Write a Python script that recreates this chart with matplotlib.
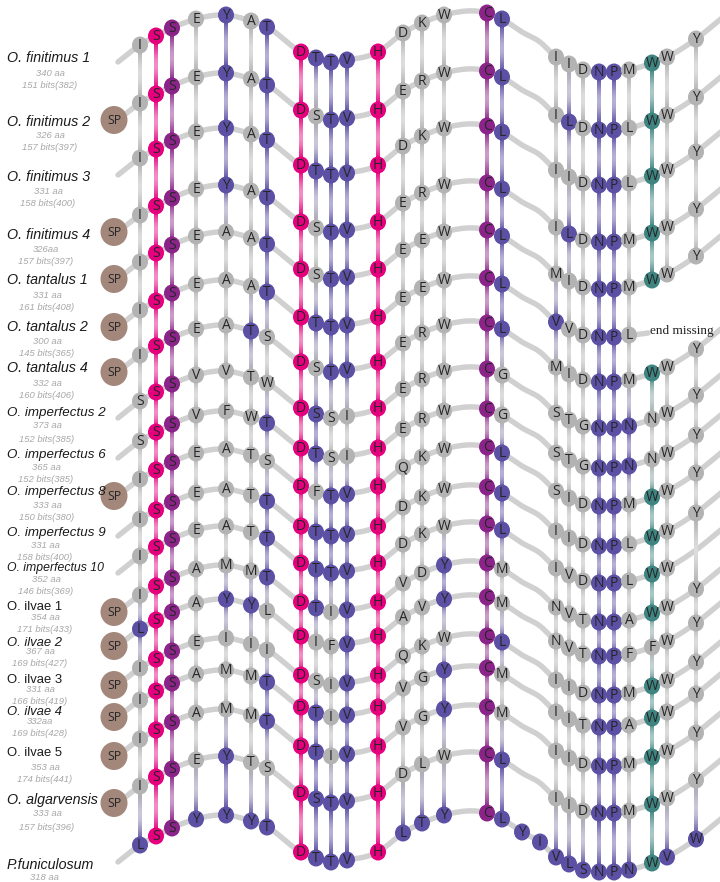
import numpy as np
import matplotlib
matplotlib.use('Agg')
import matplotlib.pyplot as plt
from matplotlib.patches import Ellipse
from matplotlib.colors import to_rgb

# ---- data ----
species = ['O. finitimus 1', 'O. finitimus 2', 'O. finitimus 3', 'O. finitimus 4',
           'O. tantalus 1', 'O. tantalus 2', 'O. tantalus 4',
           'O. imperfectus 2', 'O. imperfectus 6', 'O. imperfectus 8',
           'O. imperfectus 9', 'O. imperfectus 10',
           'O. ilvae 1', 'O. ilvae 2', 'O. ilvae 3', 'O. ilvae 4', 'O. ilvae 5',
           'O. algarvensis', 'P.funiculosum']
aa_text = ['340 aa', '326 aa', '331 aa', '326aa', '331 aa', '300 aa', '332 aa',
           '373 aa', '365 aa', '333 aa', '331 aa', '352 aa',
           '354 aa', '367 aa', '331 aa', '332aa', '353 aa', '333 aa', '318 aa']
bits_text = ['151 bits(382)', '157 bits(397)', '158 bits(400)', '157 bits(397)',
             '161 bits(408)', '145 bits(365)', '160 bits(406)',
             '152 bits(385)', '152 bits(385)', '150 bits(380)', '158 bits(400)',
             '146 bits(369)', '171 bits(433)', '169 bits(427)', '166 bits(419)',
             '169 bits(428)', '174 bits(441)', '157 bits(396)', '']
has_sp = [0, 1, 0, 1, 1, 1, 1, 0, 0, 1, 0, 0, 1, 1, 1, 1, 1, 1, 0]

# 17 aligned positions + 2 insertion slots + 9 aligned positions ('-' = none)
residues = [
    'ISSEYATDTTVHDKWCL' '--' 'IIDNPMWWY',
    'ISSEYATDSTVHERWCL' '--' 'ILDNPLWWY',
    'ISSEYATDTTVHDKWCL' '--' 'IIDNPLWWY',
    'ISSEYATDSTVHERWCL' '--' 'ILDNPMWWY',
    'ISSEAATDSTVHEEWCL' '--' 'MIDNPMWWY',
    'ISSEAATDTTVHEEWCL' '--' 'VVDNPL---',
    'ISSEATSDSTVHERWCL' '--' 'MIDNPMWWY',
    'SSSVVTWDSSIHERWCG' '--' 'STGNPNNWY',
    'SSSVFWTDTSIHERWCG' '--' 'STGNPNNWY',
    'ISSEATSDFTVHQKWCL' '--' 'SIDNPMWWY',
    'ISSEATTDTTVHDKWCL' '--' 'IIDNPLWWY',
    'ISSEATTDTTVHDKWCL' '--' 'IVDNPLWW-',
    'ISSAMMTDTIVHVDYCM' '--' 'NVTNPAWWY',
    'LSSAYYLDIFVHAVYCM' '--' 'NVTNPFFWY',
    'ISSEIIIDSIVHQKWCL' '--' 'IIDNPMWWY',
    'ISSAMMTDTIVHVGYCM' '--' 'IITNPAWWY',
    'ISSAMMTDTIVHVGYCM' '--' 'IIDNPMWWY',
    'ISSEYTSDSTVHDLWCL' '--' 'IIDNPMWWY',
    'LSSYYYTDTTVHLTYCL' 'YI' 'VLSNPNWVW',
]
# g grey, p pink, u purple, b blue, t teal
classes = [
    'gpugbgbpbbbpgggub' '--' 'gggbbgtgg',
    'gpugbgbpgbbpgggub' '--' 'gbgbbgtgg',
    'gpugbgbpbbbpgggub' '--' 'gggbbgtgg',
    'gpugbgbpgbbpgggub' '--' 'gbgbbgtgg',
    'gpugggbpgbbpgggub' '--' 'gggbbgtgg',
    'gpugggbpbbbpgggub' '--' 'bggbbg---',
    'gpuggbgpgbbpgggub' '--' 'gggbbgtgg',
    'gpuggggpbggpgggug' '--' 'gggbbbggg',
    'gpugggbpbggpgggug' '--' 'gggbbbggg',
    'gpuggggpgbbpgggub' '--' 'gggbbgtgg',
    'gpugggbpbbbpgggub' '--' 'gggbbgtgg',
    'gpugggbpbbbpgggub' '--' 'gggbbgtg-',
    'gpugggbpbgbpggbug' '--' 'gggbbgtgg',
    'bpugbbgpggbpggbug' '--' 'gggbbgggg',
    'gpuggggpggbpgggub' '--' 'gggbbgtgg',
    'gpugggbpbgbpggbug' '--' 'gggbbgtgg',
    'gpugggbpbgbpggbug' '--' 'gggbbgtgg',
    'gpugbggpbbbpgggub' '--' 'gggbbgtgg',
    'bpubbbbpbbbpbbbub' 'bb' 'bbbbbbtbb',
]

# ---- layout ----
palette = {'g': '#b3b3b3', 'p': '#e5007e', 'u': '#8b2489', 'b': '#5b50a4', 't': '#3e8481'}
col_x = [140, 156, 172, 196, 226, 251, 267, 301, 316, 331, 347, 378, 403, 422, 444,
         487, 502, 522, 540, 556, 569, 583, 599, 614, 629, 652, 667, 696]
col_dy = [45, 36, 28, 19, 15, 21, 27, 52, 58, 62, 60, 52, 33, 23, 15, 13, 19, 32, 42,
          57, 64, 70, 72, 72, 70, 63, 57, 39]
row_off = [0, 58, 113, 170, 217, 265, 310, 356, 396, 434, 474, 511, 550, 584, 623,
           655, 694, 741, 800]
label_y = [58, 122, 177, 235, 280, 327, 368, 413, 455, 492, 533, 568, 607, 643, 680,
           712, 753, 800, 865]
aa_y = [73, 136, 192, 249, 295, 342, 383, 425, 468, 506, 545, 579, 617, 652, 690,
        722, 768, 814, 877]
bits_y = [85, 148, 203, 262, 307, 354, 395, 439, 480, 518, 557, 592, 629, 663, 702,
          734, 780, 827, 0]
sub_x = [50, 50, 48, 46, 47, 47, 47, 47, 46, 47, 45, 46, 45, 40, 40, 40, 45, 47, 44]
label_size = [10.3] * 7 + [9.6] * 4 + [8.8] + [9.4] * 5 + [10.3, 10.3]
label_style = ['italic'] * 12 + ['normal', 'italic', 'normal', 'italic', 'normal'] + ['italic'] * 2
truncated = 5          # O. tantalus 2 ends early
trunc_col = 24
ins_cols = (17, 18)


def smooth(xs, ys, n=14):
    xs = np.asarray(xs, float)
    ys = np.asarray(ys, float)
    h = np.diff(xs)
    d = np.diff(ys) / h
    m = np.empty_like(ys)
    m[0], m[-1] = d[0], d[-1]
    m[1:-1] = (d[:-1] * h[1:] + d[1:] * h[:-1]) / (h[:-1] + h[1:])
    px, py = [], []
    t = np.linspace(0, 1, n, endpoint=False)
    for i in range(len(xs) - 1):
        h00 = 2 * t**3 - 3 * t**2 + 1
        h10 = t**3 - 2 * t**2 + t
        h01 = -2 * t**3 + 3 * t**2
        h11 = t**3 - t**2
        px.append(xs[i] + t * h[i])
        py.append(h00 * ys[i] + h10 * h[i] * m[i] + h01 * ys[i + 1] + h11 * h[i] * m[i + 1])
    px.append([xs[-1]])
    py.append([ys[-1]])
    return np.concatenate(px), np.concatenate(py)


def link_image(c1, c2, n=64):
    # colour ramp between two residues with a pale sheen half-way
    t = np.linspace(0, 1, n)
    c1, c2 = np.array(to_rgb(c1)), np.array(to_rgb(c2))
    cols = (1 - t)[:, None] * c1 + t[:, None] * c2
    w = 0.55 * np.sin(np.pi * t) ** 2
    cols = cols * (1 - w[:, None]) + w[:, None]
    return cols[:, None, :]


fig = plt.figure(figsize=(7.2, 8.82), dpi=100)
ax = fig.add_axes([0, 0, 1, 1])
ax.axis('off')

# grey backbone curves
for r, off in enumerate(row_off):
    xs = [118] + col_x
    ys = [off + 62] + [off + d for d in col_dy]
    if r == truncated:
        xs = xs[:trunc_col + 1] + [648]
        ys = ys[:trunc_col + 1] + [off + 68]
    else:
        xs = xs + [722]
        ys = ys + [off + 18]
    cx, cy = smooth(xs, ys)
    ax.plot(cx, cy, color='#d0d0d0', lw=3.9, solid_capstyle='round', zorder=1)

# vertical links between neighbouring sequences
for c in range(len(col_x)):
    if c in ins_cols:
        continue
    present = [r for r in range(len(residues)) if residues[r][c] != '-']
    for r1, r2 in zip(present[:-1], present[1:]):
        if r1 < truncated < r2:
            continue
        y1, y2 = row_off[r1] + col_dy[c], row_off[r2] + col_dy[c]
        img = link_image(palette[classes[r1][c]], palette[classes[r2][c]])
        ax.imshow(img, extent=(col_x[c] - 1.6, col_x[c] + 1.6, y2, y1), origin='upper',
                  aspect='auto', interpolation='bilinear', zorder=2)

# residues
for r, seq in enumerate(residues):
    for c, aa in enumerate(seq):
        if aa == '-':
            continue
        x, y = col_x[c], row_off[r] + col_dy[c]
        ax.add_patch(Ellipse((x, y), 16, 17, fc=palette[classes[r][c]], ec='none', zorder=3))
        ax.text(x, y + 0.5, aa, ha='center', va='center', fontsize=10,
                family='Open Sans', color='#262626', zorder=4)
    if has_sp[r]:
        ax.add_patch(Ellipse((114, row_off[r] + 62), 27, 28, fc='#a3877b', ec='none', zorder=3))
        ax.text(114, row_off[r] + 62.5, 'SP', ha='center', va='center', fontsize=8.8,
                family='Open Sans', color='#262626', zorder=4)

ax.text(650, row_off[truncated] + 66, 'end missing', ha='left', va='center',
        fontsize=9.5, family='Liberation Serif', color='#222222', zorder=4)

# species labels
for r, name in enumerate(species):
    ax.text(7, label_y[r], name, ha='left', va='center', fontsize=label_size[r],
            style=label_style[r], family='Liberation Sans', color='#1a1a1a')
    ax.text(sub_x[r], aa_y[r], aa_text[r], ha='center', va='center', fontsize=6.8,
            style='italic', family='Liberation Sans', color='#a8a8a8')
    if bits_text[r]:
        ax.text(sub_x[r], bits_y[r], bits_text[r], ha='center', va='center', fontsize=6.8,
                style='italic', family='Liberation Sans', color='#a8a8a8')

ax.set_xlim(0, 720)
ax.set_ylim(882, 0)
fig.savefig('out.png', dpi=100)
